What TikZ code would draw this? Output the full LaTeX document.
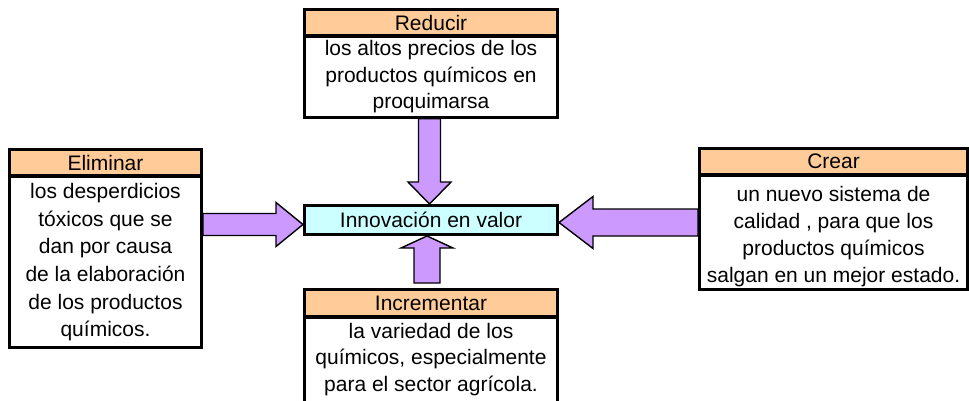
\documentclass[tikz,border=0pt]{standalone}
\usepackage{fontspec}
\setmainfont{Liberation Sans}
\usetikzlibrary{calc}
\definecolor{hdrcol}{HTML}{FFCC99}
\definecolor{arrcol}{HTML}{CC99FF}
\definecolor{cencol}{HTML}{CCFFFF}
\tikzset{
  box/.style={draw, line width=2.6pt, inner sep=0pt, anchor=north west, align=center,
    font=\fontsize{21}{27}\selectfont},
  hdrbox/.style={box, fill=hdrcol},
  bodybox/.style={box, fill=white},
  centbox/.style={box, fill=cencol},
  txt/.style={inner sep=0pt, align=center, font=\fontsize{21}{26.5}\selectfont},
  arrowsty/.style={draw, fill=arrcol, line width=1.4pt, line join=miter},
}
% vertical block arrow: tail, tip, shaft half width, head half width, head base offset (signed)
\newcommand\varrow[5]{\draw[arrowsty] let \p1=#1, \p2=#2 in
  ({\x2-#3pt},{\y1}) -- ({\x2-#3pt},{\y2+(#5pt)}) -- ({\x2-#4pt},{\y2+(#5pt)}) -- (\x2,\y2)
  -- ({\x2+#4pt},{\y2+(#5pt)}) -- ({\x2+#3pt},{\y2+(#5pt)}) -- ({\x2+#3pt},{\y1}) -- cycle;}
% horizontal block arrow
\newcommand\harrow[5]{\draw[arrowsty] let \p1=#1, \p2=#2 in
  ({\x1},{\y2-#3pt}) -- ({\x2+(#5pt)},{\y2-#3pt}) -- ({\x2+(#5pt)},{\y2-#4pt}) -- (\x2,\y2)
  -- ({\x2+(#5pt)},{\y2+#4pt}) -- ({\x2+(#5pt)},{\y2+#3pt}) -- ({\x1},{\y2+#3pt}) -- cycle;}
\begin{document}
\begin{tikzpicture}[x=1pt,y=1pt]
\useasboundingbox (0,0) rectangle (969,-401);
\clip (0,0) rectangle (969,-401);
% Reducir
\node[hdrbox, minimum width=253.4pt, minimum height=26.4pt] (redh) at (303,-8) {Reducir};
\node[bodybox, minimum width=253.4pt, minimum height=80.4pt] (redb) at ($(redh.south west)+(0,1.3)$) {};
\node[txt] (redt) at ($(redb.center)+(0,0.5)$) {los altos precios de los\\productos químicos en\\proquimarsa};
% Eliminar
\node[hdrbox, minimum width=192.4pt, minimum height=26.4pt] (elimh) at (8,-148) {Eliminar};
\node[bodybox, minimum width=192.4pt, minimum height=170.4pt] (elimb) at ($(elimh.south west)+(0,1.3)$) {};
\node[txt, font=\fontsize{21}{27.6}\selectfont] (elimt) at ($(elimb.center)+(0,0)$) {los desperdicios\\tóxicos que se\\dan por causa\\de la elaboración\\de los productos\\químicos.};
% Crear
\node[hdrbox, minimum width=268.4pt, minimum height=26.4pt] (crh) at (698,-147) {Crear};
\node[bodybox, minimum width=268.4pt, minimum height=113.4pt] (crb) at ($(crh.south west)+(0,1.3)$) {};
\node[txt, font=\fontsize{21}{27}\selectfont] (crt) at ($(crb.center)+(0,-3.5)$) {un nuevo sistema de\\calidad , para que los\\productos químicos\\salgan en un mejor estado.};
% Center
\node[centbox, minimum width=253.4pt, minimum height=29.4pt] (cen) at (303,-204) {Innovación en valor};
% Incrementar
\node[hdrbox, minimum width=253.4pt, minimum height=27.4pt] (inch) at (303,-288) {Incrementar};
\node[bodybox, minimum width=253.4pt, minimum height=120pt] (incb) at ($(inch.south west)+(0,1.3)$) {};
\node[txt] (inct) at (431,-359.5) {la variedad de los\\químicos, especialmente\\para el sector agrícola.};
% Arrows
\varrow{(redb.south)}{($(cen.north)+(-1.5,0)$)}{11}{21.5}{22}
\varrow{($(inch.north)+(0,5)$)}{($(cen.south)+(-4,0)$)}{13}{26}{-12}
\harrow{(elimb.east)}{($(cen.west)+(0,-4.5)$)}{11}{22}{-27}
\harrow{(crb.west)}{($(cen.east)+(0,-2.5)$)}{13.5}{26}{34}
\end{tikzpicture}
\end{document}
